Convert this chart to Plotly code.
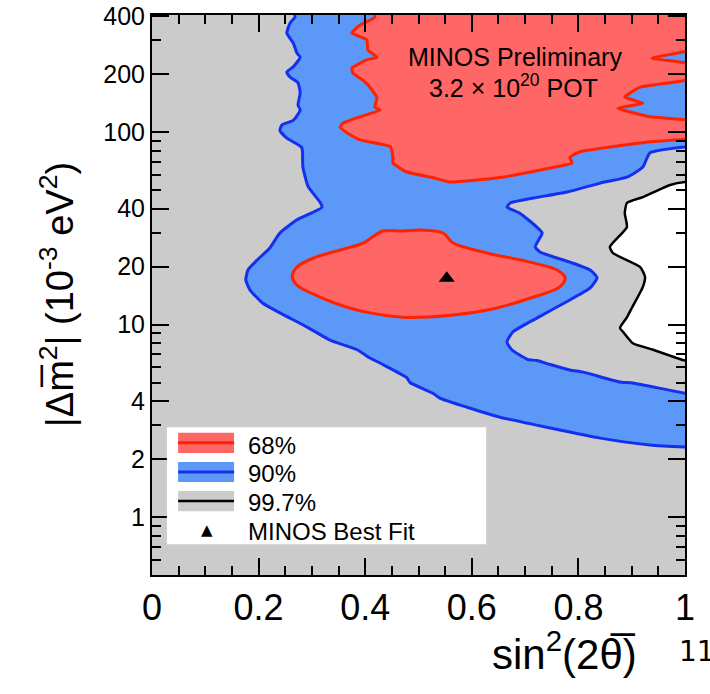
import plotly.graph_objects as go

# ---------------- data (sin^2(2theta), |dm^2| in 1e-3 eV^2) ----------------
# 68% C.L. upper island (closed polygon, edge points placed just outside the frame)
c68_upper_x = [0.418, 1.02, 1.02, 0.938, 1.02, 1.02, 0.916, 0.887, 0.921, 0.874, 0.934, 1.02, 1.02,
               0.934, 0.803, 0.784, 0.788, 0.747, 0.653, 0.559, 0.527, 0.478, 0.452, 0.452, 0.447,
               0.390, 0.366, 0.353, 0.358, 0.390, 0.428, 0.418, 0.422, 0.413, 0.396, 0.377, 0.375,
               0.403, 0.422, 0.405, 0.403, 0.375, 0.390, 0.418, 0.418]
c68_upper_y = [440, 440, 273, 242, 223, 191, 171, 152, 141, 133, 120, 113, 94,
               89, 79, 74, 69, 65, 58, 55, 58, 62, 69, 74, 84,
               91, 99, 106, 111, 120, 130, 135, 150, 165, 186, 202, 215,
               237, 245, 267, 301, 327, 359, 395, 440]

# 68% C.L. lower island
c68_lower_x = [0.433, 0.471, 0.503, 0.546, 0.565, 0.629, 0.709, 0.760, 0.775, 0.765, 0.709, 0.647,
               0.565, 0.503, 0.471, 0.409, 0.366, 0.315, 0.272, 0.263, 0.272, 0.302, 0.353, 0.396, 0.433]
c68_lower_y = [30.6, 30.6, 31.0, 29.9, 26.5, 23.5, 21.1, 19.2, 17.5, 15.7, 13.7, 12.2,
               11.2, 10.9, 10.9, 11.5, 12.3, 13.9, 16.0, 17.7, 19.9, 22.1, 24.4, 26.5, 30.6]

# 90% C.L. region
c90_x = [0.268, 0.268, 0.259, 0.253, 0.265, 0.272, 0.278, 0.265, 0.253, 0.259, 0.274, 0.278,
         0.274, 0.278, 0.265, 0.244, 0.240, 0.253, 0.281, 0.283, 0.293, 0.315, 0.319, 0.272,
         0.240, 0.221, 0.197, 0.180, 0.176, 0.184, 0.208, 0.240, 0.291, 0.334, 0.385, 0.409,
         0.433, 0.478, 0.484, 0.527, 0.540, 0.591, 0.653, 0.747, 0.841, 0.934, 1.0, 1.02,
         1.02, 1.0, 0.902, 0.878, 0.809, 0.784, 0.747, 0.722, 0.704, 0.675, 0.666, 0.677,
         0.722, 0.777, 0.822, 0.835, 0.822, 0.784, 0.728, 0.719, 0.732, 0.722, 0.690, 0.666,
         0.672, 0.715, 0.779, 0.841, 0.891, 0.921, 0.934, 1.0, 1.02, 1.02, 0.268]
c90_y = [440, 395, 368, 327, 290, 257, 245, 218, 205, 193, 180, 160,
         138, 130, 115, 109, 102, 93, 83, 66, 52, 43.3, 40.7, 35,
         29.9, 25, 21.6, 19.2, 17.0, 15.1, 12.9, 11.5, 9.7, 8.3, 7.4, 6.7,
         6.2, 5.3, 5.0, 4.4, 4.15, 3.72, 3.30, 2.90, 2.57, 2.37, 2.31, 2.3,
         4.36, 4.4, 4.97, 5.03, 5.66, 5.8, 6.2, 6.5, 6.6, 7.4, 8.1, 9.15,
         10.8, 13.1, 15.5, 17.5, 19.2, 21.1, 23.8, 25.3, 29.9, 32.1, 37.9, 40.7,
         42.8, 45.4, 48.8, 54.3, 58.3, 65.8, 77.8, 83.6, 84, 440, 440]

# 99.7% C.L. boundary (excluded region to its right)
c997_x = [1.0, 0.972, 0.921, 0.891, 0.887, 0.891, 0.859, 0.865, 0.916, 0.925, 0.921, 0.901,
          0.891, 0.878, 0.884, 0.902, 0.940, 1.0, 1.02, 1.02, 1.0]
c997_y = [55, 53.1, 45.9, 42.8, 37.9, 32.1, 25.3, 23.5, 19.9, 17.7, 15.7, 12.3,
          10.9, 9.6, 9.15, 8.0, 7.4, 6.5, 6.5, 55, 55]

# best fit point
bf_x = [0.553]
bf_y = [17.4]

x_tickvals = [0, 0.2, 0.4, 0.6, 0.8, 1.0]
x_ticktext = ["0", "0.2", "0.4", "0.6", "0.8", "1"]
y_tickvals = [1, 2, 4, 10, 20, 40, 100, 200, 400]
y_ticktext = ["1", "2", "4", "10", "20", "40", "100", "200", "400"]
y_minorvals = [0.6, 0.7, 0.8, 0.9, 3, 5, 6, 7, 8, 9, 30, 50, 60, 70, 80, 90, 300]

legend_labels = ["68%", "90%", "99.7%", "MINOS Best Fit"]

# ---------------- styles ----------------
FONT = "Liberation Sans, Arial, Helvetica, sans-serif"
GRAY = "#cbcbcb"
RED_FILL = "#ff6666"
RED_LINE = "#ff2200"
BLUE_FILL = "#5c98f8"
BLUE_LINE = "#1430ee"

fig = go.Figure()

fig.add_trace(go.Scatter(x=c997_x, y=c997_y, mode="lines", fill="toself", fillcolor="white",
                         line=dict(color="black", width=2.5, shape="spline", smoothing=0.5),
                         hoverinfo="skip", showlegend=False))
fig.add_trace(go.Scatter(x=c90_x, y=c90_y, mode="lines", fill="toself", fillcolor=BLUE_FILL,
                         line=dict(color=BLUE_LINE, width=3, shape="spline", smoothing=0.5),
                         hoverinfo="skip", showlegend=False))
fig.add_trace(go.Scatter(x=c68_upper_x, y=c68_upper_y, mode="lines", fill="toself", fillcolor=RED_FILL,
                         line=dict(color=RED_LINE, width=3, shape="spline", smoothing=0.4),
                         hoverinfo="skip", showlegend=False))
fig.add_trace(go.Scatter(x=c68_lower_x, y=c68_lower_y, mode="lines", fill="toself", fillcolor=RED_FILL,
                         line=dict(color=RED_LINE, width=3, shape="spline", smoothing=0.9),
                         hoverinfo="skip", showlegend=False))
fig.add_trace(go.Scatter(x=bf_x, y=bf_y, mode="markers",
                         marker=dict(symbol="triangle-up", size=14, color="black"),
                         hoverinfo="skip", showlegend=False))

# ---------------- legend (drawn in paper coords) ----------------
shapes = [dict(type="rect", xref="paper", yref="paper", x0=0.028, x1=0.627, y0=0.055, y1=0.264,
               fillcolor="white", line=dict(width=0), layer="above")]
sw = [(0.236, RED_FILL, RED_LINE, 3), (0.184, BLUE_FILL, BLUE_LINE, 3), (0.132, GRAY, "black", 2.5)]
for yc, fc, lc, lw in sw:
    shapes.append(dict(type="rect", xref="paper", yref="paper", x0=0.049, x1=0.154,
                       y0=yc - 0.018, y1=yc + 0.018, fillcolor=fc, line=dict(width=0), layer="above"))
    shapes.append(dict(type="line", xref="paper", yref="paper", x0=0.049, x1=0.154,
                       y0=yc, y1=yc, line=dict(color=lc, width=lw), layer="above"))

annotations = []
for lab, yc in zip(legend_labels, [0.232, 0.182, 0.130, 0.077]):
    annotations.append(dict(text=lab, xref="paper", yref="paper", x=0.176, y=yc,
                            xanchor="left", yanchor="middle", showarrow=False,
                            font=dict(family=FONT, size=24, color="black")))
annotations.append(dict(text="▲", xref="paper", yref="paper", x=0.103, y=0.080,
                        xanchor="center", yanchor="middle", showarrow=False,
                        font=dict(family="DejaVu Sans", size=15, color="black")))

annotations += [
    dict(text="MINOS Preliminary", xref="paper", yref="paper", x=0.681, y=0.925,
         xanchor="center", yanchor="middle", showarrow=False,
         font=dict(family=FONT, size=25, color="black")),
    dict(text="3.2 × 10<sup>20</sup> POT", xref="paper", yref="paper", x=0.679, y=0.873,
         xanchor="center", yanchor="middle", showarrow=False,
         font=dict(family=FONT, size=25, color="black")),
    dict(text="sin<sup>2</sup>(2θ̅)", xref="paper", yref="paper", x=0.773, y=-0.135,
         xanchor="center", yanchor="middle", showarrow=False,
         font=dict(family=FONT, size=42, color="black")),
    dict(text="|Δm̅<sup>2</sup>| (10<sup>-3</sup> eV<sup>2</sup>)", xref="paper", yref="paper",
         x=-0.178, y=0.5, xanchor="center", yanchor="middle", textangle=-90, showarrow=False,
         font=dict(family=FONT, size=38, color="black")),
    dict(text="11", xref="paper", yref="paper", x=0.985, y=-0.137,
         xanchor="left", yanchor="middle", showarrow=False,
         font=dict(family="DejaVu Sans", size=28, color="black")),
]

fig.update_layout(
    width=710, height=694,
    margin=dict(l=152, r=25, t=15, b=119, autoexpand=False),
    paper_bgcolor="white", plot_bgcolor=GRAY,
    showlegend=False,
    shapes=shapes, annotations=annotations,
    font=dict(family=FONT, color="black"),
)

fig.update_xaxes(
    range=[0, 1], tickmode="array", tickvals=x_tickvals, ticktext=x_ticktext,
    ticks="inside", ticklen=17, tickwidth=1.5, tickcolor="black",
    minor=dict(dtick=0.05, ticks="inside", ticklen=9, tickwidth=1.5, tickcolor="black", showgrid=False),
    showline=True, linewidth=2, linecolor="black", mirror="allticks",
    showgrid=False, zeroline=False, automargin=False,
    tickfont=dict(family=FONT, size=36, color="black"),
)
fig.update_yaxes(
    type="log", range=[-0.30103, 2.608], tickmode="array", tickvals=y_tickvals, ticktext=y_ticktext,
    ticks="inside", ticklen=17, tickwidth=1.5, tickcolor="black",
    minor=dict(tickmode="array", tickvals=y_minorvals, ticks="inside", ticklen=9, tickwidth=1.5,
               tickcolor="black", showgrid=False),
    showline=True, linewidth=2, linecolor="black", mirror="allticks",
    showgrid=False, zeroline=False, automargin=False,
    tickfont=dict(family=FONT, size=25, color="black"),
)

fig.write_html("out.html")
